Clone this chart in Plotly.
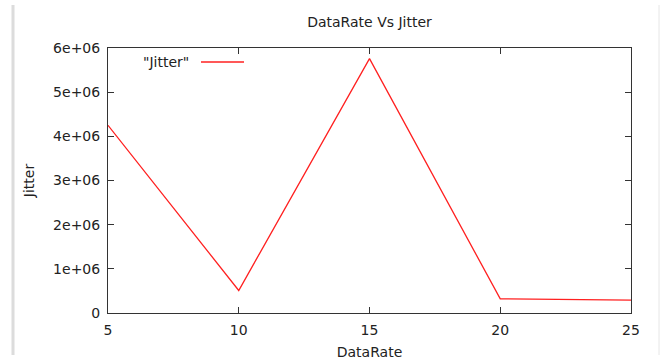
import plotly.graph_objects as go

data_rate = [5, 10, 15, 20, 25]
jitter = [4250000, 510000, 5760000, 320000, 290000]
x_ticks = [5, 10, 15, 20, 25]
y_ticks = [0, 1e6, 2e6, 3e6, 4e6, 5e6, 6e6]
y_tick_labels = ["0", "1e+06", "2e+06", "3e+06", "4e+06", "5e+06", "6e+06"]

W, H = 662, 361
L, R, T, B = 108, 31, 48, 48
font = dict(family="DejaVu Sans", size=14, color="#222")

fig = go.Figure()
fig.add_trace(go.Scatter(x=data_rate, y=jitter, mode="lines",
                         line=dict(color="#ff2020", width=1.3),
                         showlegend=False, hoverinfo="x+y"))

axis_common = dict(showgrid=False, zeroline=False, showline=True, linecolor="#333",
                   linewidth=1, mirror="allticks", ticks="inside", ticklen=6,
                   tickcolor="#333", tickfont=font, automargin=False)

fig.update_xaxes(range=[5, 25], tickvals=x_ticks, ticktext=[str(v) for v in x_ticks],
                 ticklabelstandoff=4,
                 title=dict(text="DataRate", font=font, standoff=10), **axis_common)
fig.update_yaxes(range=[0, 6e6], tickvals=y_ticks, ticktext=y_tick_labels,
                 ticklabelstandoff=4,
                 title=dict(text="Jitter", font=font, standoff=15), **axis_common)

pw = W - L - R
ph = H - T - B
# legend (gnuplot style: text then line sample)
fig.add_annotation(x=(191 - L) / pw, y=(H - B - 62) / ph, xref="paper", yref="paper",
                   text='"Jitter"', showarrow=False, xanchor="right", yanchor="middle",
                   font=font)
fig.add_shape(type="line", xref="paper", yref="paper",
              x0=(201 - L) / pw, x1=(244 - L) / pw,
              y0=(H - B - 62) / ph, y1=(H - B - 62) / ph,
              line=dict(color="#ff2020", width=1.3))
# window border strips seen in screenshot
fig.add_shape(type="line", xref="paper", yref="paper",
              x0=(13 - L) / pw, x1=(13 - L) / pw, y0=(H - B - 355) / ph, y1=(H - B - 5) / ph,
              line=dict(color="#dcdcdc", width=3))
fig.add_shape(type="line", xref="paper", yref="paper",
              x0=(659 - L) / pw, x1=(659 - L) / pw, y0=(H - B - 355) / ph, y1=(H - B - 5) / ph,
              line=dict(color="#e6e6e6", width=1))

fig.update_layout(
    width=W, height=H,
    margin=dict(l=L, r=R, t=T, b=B, autoexpand=False),
    paper_bgcolor="white", plot_bgcolor="white",
    title=dict(text="DataRate Vs Jitter", x=(369.5) / W, xanchor="center",
               y=1 - 22 / H, yanchor="middle", font=font),
    font=font,
)

fig.write_html("out.html", config={"displayModeBar": False},
               post_script="document.body.style.margin='0';document.body.style.overflow='hidden';")
